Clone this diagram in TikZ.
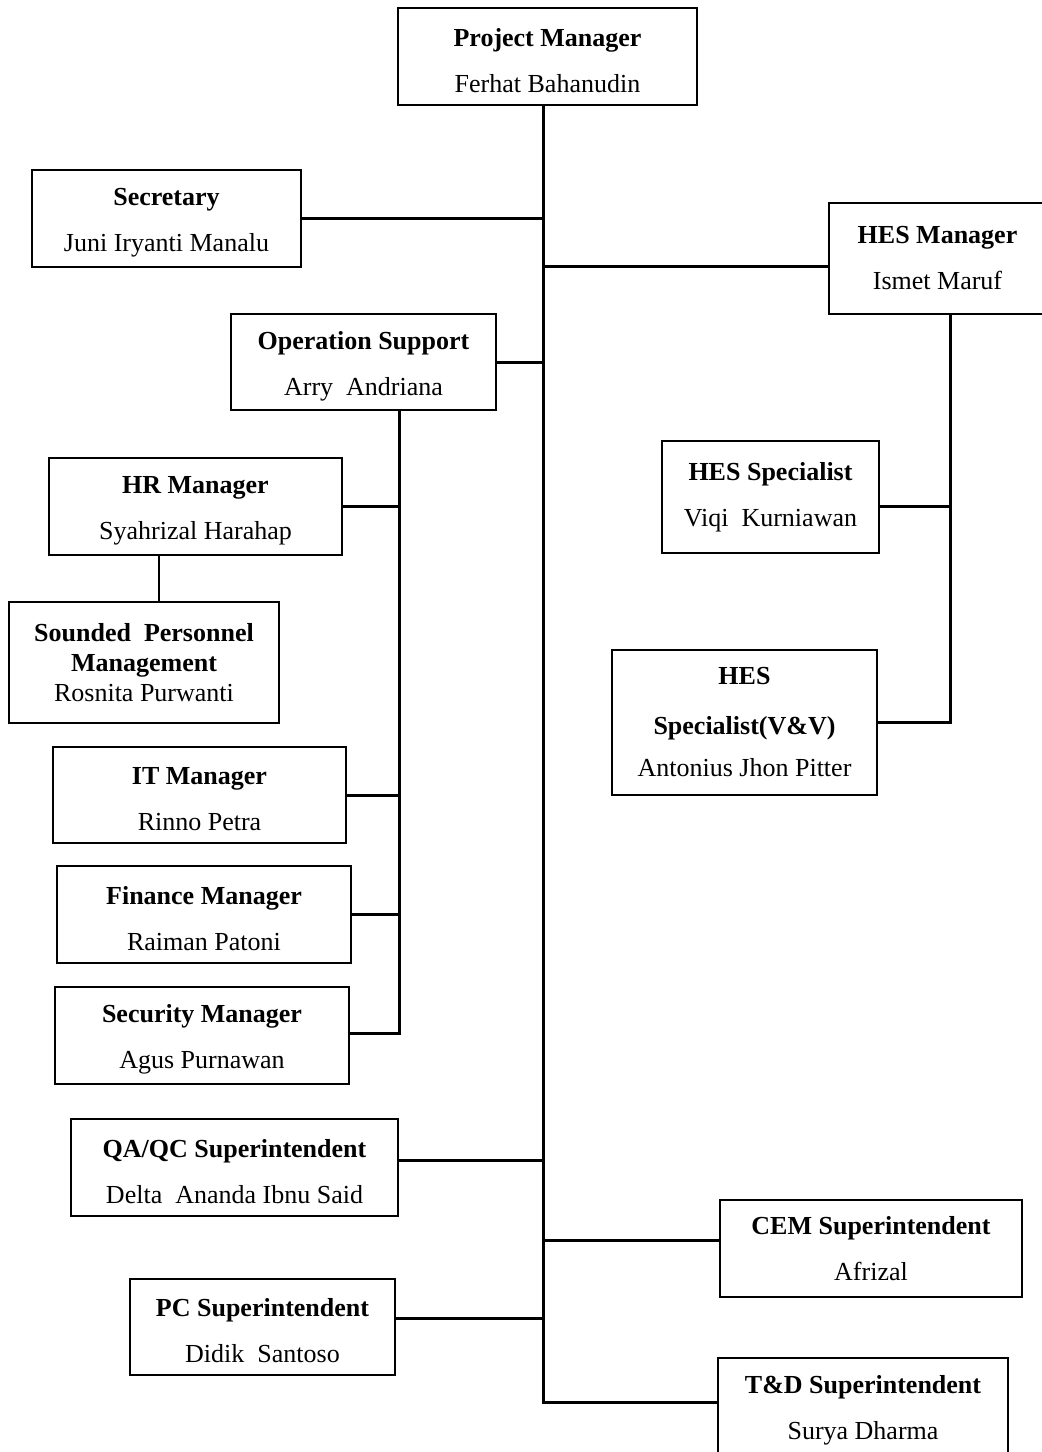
\documentclass[tikz,border=0pt]{standalone}
\usepackage{fontspec}
\setmainfont{Liberation Serif}
\usetikzlibrary{positioning}
\newcommand{\topgap}{\rule{0pt}{13pt}}
\tikzset{
  orgbox/.style={draw=black,line width=1pt,fill=white,align=center,inner sep=0pt,font=\fontsize{13}{23}\selectfont},
  link/.style={draw=black,line width=1.5pt}
}

\begin{document}
\begin{tikzpicture}[x=0.5pt,y=-0.5pt]
  \useasboundingbox (0,0) rectangle (1041,1452);
  % top and main line
  \node[orgbox,minimum width=149.5pt,minimum height=48.5pt] (pm) at (547.5,56.5) {\topgap\textbf{Project Manager}\\Ferhat Bahanudin};
  \node[orgbox,minimum width=134.5pt,minimum height=48.5pt] (sec) at (166.5,218.5) {\topgap\textbf{Secretary}\\Juni Iryanti Manalu};
  \node[orgbox,minimum width=108.5pt,minimum height=55.5pt] (hesm) at (937.5,258.5) {\textbf{HES Manager}\\Ismet Maruf};
  \node[orgbox,minimum width=132.5pt,minimum height=48pt] (op) at (363.5,362) {\topgap\textbf{Operation Support}\\Arry \ Andriana};
  % operation support
  \node[orgbox,minimum width=146.5pt,minimum height=48.5pt] (hr) at (195.5,506.5) {\topgap\textbf{HR Manager}\\Syahrizal Harahap};
  \node[orgbox,minimum width=135pt,minimum height=60.5pt] (spm) at (144,662.5) {\textbf{Sounded \ Personnel}\\[-8pt]\textbf{Management}\\[-8pt]Rosnita Purwanti};
  \node[orgbox,minimum width=146.5pt,minimum height=48pt] (it) at (199.5,795) {\topgap\textbf{IT Manager}\\Rinno Petra};
  \node[orgbox,minimum width=147pt,minimum height=48.5pt] (fin) at (204,914.5) {\topgap\textbf{Finance Manager}\\Raiman Patoni};
  \node[orgbox,minimum width=147pt,minimum height=48.5pt] (secm) at (202,1035.5) {\topgap\textbf{Security Manager}\\Agus Purnawan};
  % hes
  \node[orgbox,minimum width=108.5pt,minimum height=56pt] (hess) at (770.5,497) {\textbf{HES Specialist}\\Viqi \ Kurniawan};
  \node[orgbox,minimum width=132.5pt,minimum height=72.5pt] (hesvv) at (744.5,722.5) {\textbf{HES}\\[2pt]\textbf{Specialist(V\&V)}\\[-2pt]Antonius Jhon Pitter};
  % superintendents
  \node[orgbox,minimum width=163.5pt,minimum height=48.5pt] (qa) at (234.5,1167.5) {\topgap\textbf{QA/QC Superintendent}\\Delta \ Ananda Ibnu Said};
  \node[orgbox,minimum width=132.5pt,minimum height=48pt] (pc) at (262.5,1327) {\topgap\textbf{PC Superintendent}\\Didik \ Santoso};
  \node[orgbox,minimum width=151pt,minimum height=48.5pt] (cem) at (871,1248.5) {\textbf{CEM Superintendent}\\Afrizal};
  \node[orgbox,minimum width=145pt,minimum height=48.5pt] (td) at (863,1406.5) {\topgap\textbf{T\&D Superintendent}\\Surya Dharma};

  \coordinate (trunk) at ([xshift=-2.25pt]pm.south);
  \coordinate (optrunk) at ([xshift=17.75pt]op.south);
  \coordinate (hestrunk) at ([xshift=6.25pt]hesm.south);
  \coordinate (hesmL) at ([yshift=-3.75pt]hesm.west);
  \coordinate (secmR) at ([yshift=1.25pt]secm.east);
  \coordinate (hessR) at ([yshift=-4.5pt]hess.east);
  \coordinate (qaR) at ([yshift=3.75pt]qa.east);
  \coordinate (pcR) at ([yshift=4.5pt]pc.east);
  \coordinate (cemL) at ([yshift=4.25pt]cem.west);
  \coordinate (tdL) at ([yshift=2.25pt]td.west);
  \coordinate (spmT) at ([xshift=7.5pt]spm.north);

  \draw[link] (trunk) |- (tdL);
  \draw[link] (sec.east) -- (sec.east -| trunk);
  \draw[link] (hesmL) -- (hesmL -| trunk);
  \draw[link] (op.east) -- (op.east -| trunk);
  \draw[link] (qaR) -- (qaR -| trunk);
  \draw[link] (cemL) -- (cemL -| trunk);
  \draw[link] (pcR) -- (pcR -| trunk);

  \draw[link] (optrunk) |- (secmR);
  \draw[link] (hr.east) -- (hr.east -| optrunk);
  \draw[link] (it.east) -- (it.east -| optrunk);
  \draw[link] (fin.east) -- (fin.east -| optrunk);
  \draw[link,line width=1pt] (spmT) -- (spmT |- hr.south);

  \draw[link] (hestrunk) |- (hesvv.east);
  \draw[link] (hessR) -- (hessR -| hestrunk);
\end{tikzpicture}
\end{document}
